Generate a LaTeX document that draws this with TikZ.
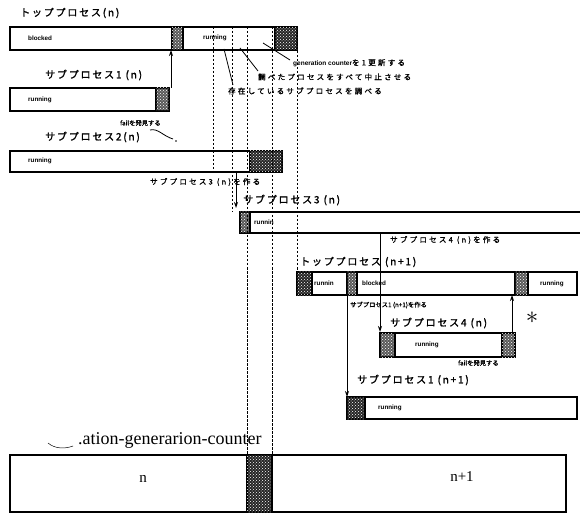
\documentclass[tikz,border=0pt]{standalone}
\usepackage{fontspec}
\setmainfont{Liberation Serif}
\newfontfamily\jpf[LetterSpace=18,FakeBold=1.6]{Noto Sans CJK JP}
\newfontfamily\jps[LetterSpace=30,FakeBold=1.4]{Noto Sans CJK JP}
\newfontfamily\jpt[FakeBold=1.2]{Noto Sans CJK JP}
\newfontfamily\lsans{Liberation Sans}
\usetikzlibrary{patterns,arrows.meta}
\newcommand\mkseg[7]{\node[#1, minimum width={#5-#3}, minimum height={#6-#4}] (#2) at (#3,#4) {#7};}
\tikzset{
  seg/.style={draw=black, line width=1.1pt, inner sep=0pt, outer sep=0pt, anchor=north west, fill=white},
  hatch/.style={seg, fill=black!85, postaction={pattern=crosshatch dots, pattern color=white}},
  lhatch/.style={seg, fill=black!65, postaction={pattern=crosshatch dots, pattern color=white}},
  boxtxt/.style={font=\lsans\bfseries\fontsize{6.3}{7}\selectfont, inner sep=0pt, anchor=west},
  big/.style={font=\jpf\fontsize{10}{12}\selectfont, inner sep=0pt, anchor=west},
  small/.style={font=\jps\fontsize{7.5}{9}\selectfont, inner sep=0pt, anchor=west},
  tinyjp/.style={font=\jpt\fontsize{6.3}{7}\selectfont, inner sep=0pt, anchor=west},
  vguide/.style={line width=0.8pt, dash pattern=on 2.5pt off 1.5pt},
  arr/.style={line width=0.9pt, -{Stealth[length=6pt,width=4pt]}},
  note/.style={line width=0.8pt}
}
\begin{document}
\begin{tikzpicture}[x=1pt,y=-1pt]
\useasboundingbox (0,0) rectangle (580,518);

% ---- top process (n)
\node[big] (lt1) at (20,13) {トッププロセス(n)};
\mkseg{seg}{tblk}{10}{27}{172}{50}{}
\mkseg{lhatch}{th1}{172}{27}{183}{50}{}
\mkseg{seg}{trun}{183}{27}{275}{50}{}
\mkseg{hatch}{th2}{275}{27}{297}{50}{}
\node[boxtxt] (tblkt) at (28,38) {blocked};
\node[boxtxt] (trunt) at (203,38) {running};

% ---- sub process 1 (n)
\node[big] (ls1) at (45,75) {サブプロセス1 (n)};
\mkseg{seg}{s1}{10}{88}{156}{111}{}
\mkseg{lhatch}{s1h}{156}{88}{169}{111}{}
\node[boxtxt] (s1t) at (28,100) {running};
\node[tinyjp] (f1) at (120,123) {failを発見する};

% ---- sub process 2 (n)
\node[big] (ls2) at (45,137) {サブプロセス2(n)};
\draw[note] (150,130) .. controls (158,128) and (163,136) .. (173,139);
\fill (176,141) circle (0.9pt);
\mkseg{seg}{s2}{10}{151}{250}{172}{}
\mkseg{hatch}{s2h}{250}{151}{282}{172}{}
\node[boxtxt] (s2t) at (28,161) {running};
\node[small] (mk3) at (150,182) {サブプロセス3 (n)を作る};

% ---- sub process 3 (n)
\node[big] (ls3) at (243,200) {サブプロセス3 (n)};
\mkseg{lhatch}{s3h}{240}{212}{250}{233}{}
\mkseg{seg}{s3}{250}{212}{600}{233}{}
\node[boxtxt] (s3t) at (254,222) {runnin};
\node[small] (mk4) at (390,240) {サブプロセス4 (n)を作る};

% ---- top process (n+1)
\node[big] (lt2) at (300,262) {トッププロセス (n+1)};
\mkseg{hatch}{t2h1}{297}{272}{312}{295}{}
\mkseg{seg}{t2run}{312}{272}{347}{295}{}
\mkseg{lhatch}{t2h2}{347}{272}{357}{295}{}
\mkseg{seg}{t2blk}{357}{272}{515}{295}{}
\mkseg{lhatch}{t2h3}{515}{272}{528}{295}{}
\mkseg{seg}{t2run2}{528}{272}{577}{295}{}
\node[boxtxt] (t2t1) at (314,283) {runnin};
\node[boxtxt] (t2t2) at (362,283) {blocked};
\node[boxtxt] (t2t3) at (540,284) {running};
\node[tinyjp] (mk1) at (350,305) {サブプロセス1 (n+1)を作る};

% ---- sub process 4 (n)
\node[big] (ls4) at (390,323) {サブプロセス4 (n)};
\node[inner sep=0pt, font=\fontsize{26}{26}\selectfont] (ast) at (532,318) {$\ast$};
\mkseg{lhatch}{s4h}{380}{333}{395}{357}{}
\mkseg{seg}{s4}{395}{333}{502}{357}{}
\mkseg{lhatch}{s4h2}{502}{333}{515}{357}{}
\node[boxtxt] (s4t) at (415,345) {running};
\node[tinyjp] (f4) at (458,363) {failを発見する};

% ---- sub process 1 (n+1)
\node[big] (ls5) at (357,380) {サブプロセス1 (n+1)};
\mkseg{hatch}{s5h}{347}{397}{365}{419}{}
\mkseg{seg}{s5}{365}{397}{577}{419}{}
\node[boxtxt] (s5t) at (378,408) {running};

% ---- generation counter
\draw[note, line width=0.5pt] (48,443) .. controls (55,449) and (65,449) .. (73,446);
\node[anchor=west, inner sep=0pt, font=\fontsize{18}{21}\selectfont] (cl) at (78,440) {.ation-generarion-counter};
\mkseg{seg}{c1}{10}{455}{247}{512}{}
\mkseg{hatch}{ch}{247}{455}{272}{512}{}
\mkseg{seg}{c2}{272}{455}{566}{512}{}
\node[inner sep=0pt, font=\fontsize{15}{18}\selectfont] (cn) at (143,479) {n};
\node[inner sep=0pt, font=\fontsize{15}{18}\selectfont] (cn1) at (462,477) {n+1};

% ---- annotations of top (n) running phase
\node[small] (a3) at (293,63) {{\lsans\bfseries\fontsize{6.5}{8}\selectfont generation counter}を1更新する};
\node[small] (a2) at (258,77) {調べたプロセスをすべて中止させる};
\node[small] (a1) at (228,91) {存在しているサブプロセスを調べる};
\draw[note] (224,49) -- (233,85);
\draw[note] (240,48) -- (258,71);
\draw[note] (263,43) -- (290,60);

% ---- dashed time guides
\draw[vguide] (213,27) -- (213,172);
\draw[vguide] (232,27) -- (232,212);
\draw[vguide] (247,27) -- (247,455);
\draw[vguide] (272,27) -- (272,455);
\draw[vguide] (297,27) -- (297,272);

% ---- connectors
\draw[arr] ([xshift=2pt]s1h.north east) -- ([xshift=2pt]s1h.north east |- tblk.south);
\draw[arr] ([xshift=-4pt]s3h.west |- s2.south) -- ([xshift=-4pt,yshift=4pt]s3h.north west);
\draw[arr] (s4h.north west |- s3.south) -- ([yshift=1pt]s4h.north west);
\draw[arr] ([xshift=-3pt]s4h2.north east) -- ([xshift=-3pt]s4h2.north east |- t2blk.south);
\draw[arr] (t2h2.south west) -- (s5h.north west);
\end{tikzpicture}
\end{document}
